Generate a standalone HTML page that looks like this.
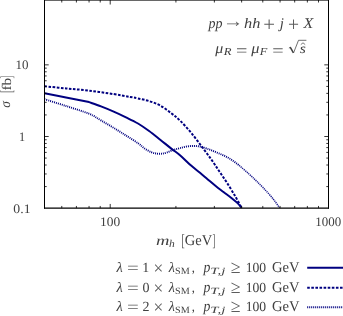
<!DOCTYPE html>
<html><head><meta charset="utf-8"><title>plot</title>
<style>html,body{margin:0;padding:0;background:#fff;}.t{font-family:"Liberation Serif",serif;text-rendering:geometricPrecision;}body{width:343px;height:316px;position:relative;overflow:hidden;font-family:"Liberation Serif",serif;}</style></head>
<body>
<svg width="343" height="316" viewBox="0 0 343 316" style="position:absolute;left:0;top:0;will-change:transform">
<clipPath id="cp"><rect x="44.5" y="0" width="284.0" height="208.45000000000002"/></clipPath>
<g clip-path="url(#cp)">
<path d="M44.5,99.2 C48.08,100.33 58.58,103.58 66.0,106.0 C73.42,108.42 83.17,111.30 89.0,113.7 C94.83,116.10 96.88,118.03 101.0,120.4 C105.12,122.77 109.53,125.38 113.7,127.9 C117.87,130.42 121.95,132.95 126.0,135.5 C130.05,138.05 134.88,141.02 138.0,143.2 C141.12,145.38 142.48,147.10 144.7,148.6 C146.92,150.10 149.25,151.37 151.3,152.2 C153.35,153.03 155.22,153.37 157.0,153.6 C158.78,153.83 160.37,153.78 162.0,153.6 C163.63,153.42 164.88,153.10 166.8,152.5 C168.72,151.90 171.30,150.73 173.5,150.0 C175.70,149.27 177.43,148.73 180.0,148.1 C182.57,147.47 185.95,146.52 188.9,146.2 C191.85,145.88 194.75,145.82 197.7,146.2 C200.65,146.58 203.27,147.38 206.6,148.5 C209.93,149.62 213.97,151.28 217.7,152.9 C221.43,154.52 225.42,156.12 229.0,158.2 C232.58,160.28 237.50,164.20 239.2,165.4" fill="none" stroke="#000080" stroke-width="1.9" stroke-dasharray="1 1"/>
<path d="M239.2,165.4 C240.83,166.83 246.20,171.47 249.0,174.0 C251.80,176.53 253.67,178.33 256.0,180.6 C258.33,182.87 260.33,184.78 263.0,187.6 C265.67,190.42 269.23,194.13 272.0,197.5 C274.77,200.87 278.33,206.08 279.6,207.8" fill="none" stroke="#000080" stroke-width="1.5" stroke-dasharray="1.2 0.8" stroke-opacity="0.9"/>
<path d="M44.5,93.3 C48.08,94.00 58.58,96.03 66.0,97.5 C73.42,98.97 85.17,101.33 89.0,102.1 C91.00,102.82 96.88,104.82 101.0,106.4 C105.12,107.98 109.53,109.78 113.7,111.6 C117.87,113.42 121.95,115.32 126.0,117.3 C130.05,119.28 134.15,121.22 138.0,123.5 C141.85,125.78 145.40,128.30 149.1,131.0 C152.80,133.70 156.50,136.77 160.2,139.7 C163.90,142.63 168.00,146.02 171.3,148.6 C174.60,151.18 176.70,152.37 180.0,155.2 C183.30,158.03 187.77,162.67 191.1,165.6 C194.43,168.53 197.22,170.50 200.0,172.8 C202.78,175.10 205.18,177.20 207.8,179.4 C210.42,181.60 213.08,183.90 215.7,186.0 C218.32,188.10 220.88,190.00 223.5,192.0 C226.12,194.00 229.10,196.18 231.4,198.0 C233.70,199.82 235.60,201.27 237.3,202.9 C239.00,204.53 240.88,206.98 241.6,207.8" fill="none" stroke="#000080" stroke-width="2" stroke-linejoin="round"/>
<path d="M44.5,86.3 C48.08,86.65 58.58,87.68 66.0,88.4 C73.42,89.12 81.05,89.65 89.0,90.6 C96.95,91.55 106.87,93.05 113.7,94.1 C120.53,95.15 125.95,96.18 130.0,96.9 C134.05,97.62 134.82,97.70 138.0,98.4 C141.18,99.10 145.40,99.92 149.1,101.1 C152.80,102.28 156.50,103.47 160.2,105.5 C163.90,107.53 168.00,110.78 171.3,113.3 C174.60,115.82 176.70,117.37 180.0,120.6 C183.30,123.83 187.40,128.27 191.1,132.7 C194.80,137.13 198.75,142.62 202.2,147.2 C205.65,151.78 208.90,156.10 211.8,160.2 C214.70,164.30 216.98,167.90 219.6,171.8 C222.22,175.70 224.88,179.50 227.5,183.6 C230.12,187.70 232.95,192.37 235.3,196.4 C237.65,200.43 240.55,205.90 241.6,207.8" fill="none" stroke="#000080" stroke-width="2" stroke-dasharray="2.6 1.5"/>
</g>
<g stroke="#000" stroke-width="1" fill="none">
<line x1="44.5" y1="0" x2="44.5" y2="208.65"/>
<line x1="328.5" y1="0" x2="328.5" y2="208.65"/>
<line x1="44.0" y1="208.20000000000002" x2="329.0" y2="208.20000000000002" stroke-width="1.2"/>
<line x1="44.0" y1="0.1" x2="329.0" y2="0.1"/>
</g><g stroke="#000" stroke-width="0.8" fill="none">
<line x1="44.5" y1="64.85" x2="48.7" y2="64.85"/>
<line x1="328.5" y1="64.85" x2="324.3" y2="64.85"/>
<line x1="44.5" y1="136.50" x2="48.7" y2="136.50"/>
<line x1="328.5" y1="136.50" x2="324.3" y2="136.50"/>
<line x1="44.5" y1="114.93" x2="46.7" y2="114.93"/>
<line x1="328.5" y1="114.93" x2="326.3" y2="114.93"/>
<line x1="44.5" y1="102.31" x2="46.7" y2="102.31"/>
<line x1="328.5" y1="102.31" x2="326.3" y2="102.31"/>
<line x1="44.5" y1="93.36" x2="46.7" y2="93.36"/>
<line x1="328.5" y1="93.36" x2="326.3" y2="93.36"/>
<line x1="44.5" y1="86.42" x2="46.7" y2="86.42"/>
<line x1="328.5" y1="86.42" x2="326.3" y2="86.42"/>
<line x1="44.5" y1="80.75" x2="46.7" y2="80.75"/>
<line x1="328.5" y1="80.75" x2="326.3" y2="80.75"/>
<line x1="44.5" y1="75.95" x2="46.7" y2="75.95"/>
<line x1="328.5" y1="75.95" x2="326.3" y2="75.95"/>
<line x1="44.5" y1="71.79" x2="46.7" y2="71.79"/>
<line x1="328.5" y1="71.79" x2="326.3" y2="71.79"/>
<line x1="44.5" y1="68.13" x2="46.7" y2="68.13"/>
<line x1="328.5" y1="68.13" x2="326.3" y2="68.13"/>
<line x1="44.5" y1="186.58" x2="46.7" y2="186.58"/>
<line x1="328.5" y1="186.58" x2="326.3" y2="186.58"/>
<line x1="44.5" y1="173.96" x2="46.7" y2="173.96"/>
<line x1="328.5" y1="173.96" x2="326.3" y2="173.96"/>
<line x1="44.5" y1="165.01" x2="46.7" y2="165.01"/>
<line x1="328.5" y1="165.01" x2="326.3" y2="165.01"/>
<line x1="44.5" y1="158.07" x2="46.7" y2="158.07"/>
<line x1="328.5" y1="158.07" x2="326.3" y2="158.07"/>
<line x1="44.5" y1="152.40" x2="46.7" y2="152.40"/>
<line x1="328.5" y1="152.40" x2="326.3" y2="152.40"/>
<line x1="44.5" y1="147.60" x2="46.7" y2="147.60"/>
<line x1="328.5" y1="147.60" x2="326.3" y2="147.60"/>
<line x1="44.5" y1="143.44" x2="46.7" y2="143.44"/>
<line x1="328.5" y1="143.44" x2="326.3" y2="143.44"/>
<line x1="44.5" y1="139.78" x2="46.7" y2="139.78"/>
<line x1="328.5" y1="139.78" x2="326.3" y2="139.78"/>
<line x1="61.78" y1="208.15" x2="61.78" y2="205.95000000000002"/>
<line x1="61.78" y1="0" x2="61.78" y2="2.5"/>
<line x1="76.40" y1="208.15" x2="76.40" y2="205.95000000000002"/>
<line x1="76.40" y1="0" x2="76.40" y2="2.5"/>
<line x1="89.06" y1="208.15" x2="89.06" y2="205.95000000000002"/>
<line x1="89.06" y1="0" x2="89.06" y2="2.5"/>
<line x1="100.22" y1="208.15" x2="100.22" y2="205.95000000000002"/>
<line x1="100.22" y1="0" x2="100.22" y2="2.5"/>
<line x1="110.21" y1="208.15" x2="110.21" y2="203.95000000000002"/>
<line x1="110.21" y1="0" x2="110.21" y2="4.5"/>
<line x1="175.92" y1="208.15" x2="175.92" y2="205.95000000000002"/>
<line x1="175.92" y1="0" x2="175.92" y2="2.5"/>
<line x1="214.36" y1="208.15" x2="214.36" y2="205.95000000000002"/>
<line x1="214.36" y1="0" x2="214.36" y2="2.5"/>
<line x1="241.63" y1="208.15" x2="241.63" y2="205.95000000000002"/>
<line x1="241.63" y1="0" x2="241.63" y2="2.5"/>
<line x1="262.79" y1="208.15" x2="262.79" y2="205.95000000000002"/>
<line x1="262.79" y1="0" x2="262.79" y2="2.5"/>
<line x1="280.07" y1="208.15" x2="280.07" y2="205.95000000000002"/>
<line x1="280.07" y1="0" x2="280.07" y2="2.5"/>
<line x1="294.69" y1="208.15" x2="294.69" y2="205.95000000000002"/>
<line x1="294.69" y1="0" x2="294.69" y2="2.5"/>
<line x1="307.35" y1="208.15" x2="307.35" y2="205.95000000000002"/>
<line x1="307.35" y1="0" x2="307.35" y2="2.5"/>
<line x1="318.51" y1="208.15" x2="318.51" y2="205.95000000000002"/>
<line x1="318.51" y1="0" x2="318.51" y2="2.5"/>
</g>
<line x1="307.2" y1="267.8" x2="343" y2="267.8" stroke="#000080" stroke-width="2"/>
<line x1="307.2" y1="287.7" x2="343" y2="287.7" stroke="#000080" stroke-width="2" stroke-dasharray="2.6 1.5"/>
<line x1="307.2" y1="307.3" x2="343" y2="307.3" stroke="#000080" stroke-width="1.9" stroke-dasharray="1 1"/>
<g class="t" fill="#404040">
<text transform="translate(15.53,69.30) scale(0.999,1)" font-size="13.0">10</text>
<text transform="translate(18.89,140.90) scale(0.945,1)" font-size="13.0">1</text>
<text transform="translate(13.35,213.00) scale(1.057,1)" font-size="13.0">0.1</text>
<text transform="translate(100.09,226.20) scale(1.033,1)" font-size="13.0">100</text>
<text transform="translate(315.24,226.20) scale(0.995,1)" font-size="13.0">1000</text>
<text transform="translate(155.95,245.00) scale(1.348,1)" font-size="13.8" font-style="italic">m</text>
<text transform="translate(169.00,247.10) scale(1.109,1)" font-size="10.4" font-style="italic">h</text>
<text transform="translate(181.22,246.00) scale(0.622,1)" font-size="16.8" fill="#5c5c5c">[</text>
<text transform="translate(184.72,245.00) scale(0.970,1)" font-size="15">GeV</text>
<text transform="translate(212.59,246.00) scale(0.529,1)" font-size="16.8" fill="#5c5c5c">]</text>
<text transform="translate(10.40,107.71) rotate(-90) scale(0.953,1)" font-size="14.2" font-style="italic">σ</text>
<text transform="translate(11.50,92.81) rotate(-90) scale(0.487,1)" font-size="16.8" fill="#5c5c5c">[</text>
<text transform="translate(10.60,90.55) rotate(-90) scale(1.149,1)" font-size="13.2">fb</text>
<text transform="translate(11.50,78.58) rotate(-90) scale(0.476,1)" font-size="16.8" fill="#5c5c5c">]</text>
<text transform="translate(208.44,27.80) scale(0.945,1)" font-size="14.8" font-style="italic">pp</text>
<text transform="translate(222.66,26.90) scale(1.106,1)" font-size="18.7" fill="#5c5c5c">→</text>
<text transform="translate(244.03,27.80) scale(1.134,1)" font-size="14.4" font-style="italic">hh</text>
<text transform="translate(263.26,30.60) scale(1.018,1)" font-size="20.5" fill="#5c5c5c">+</text>
<text transform="translate(279.68,27.80) scale(1.014,1)" font-size="14.8" font-style="italic">j</text>
<text transform="translate(288.02,30.60) scale(0.955,1)" font-size="20.5" fill="#5c5c5c">+</text>
<text transform="translate(303.56,27.80) scale(1.073,1)" font-size="14.8" font-style="italic">X</text>
<text transform="translate(215.20,52.80) scale(1.078,1)" font-size="14.8" font-style="italic">μ</text>
<text transform="translate(223.76,54.90) scale(1.173,1)" font-size="10.8" font-style="italic">R</text>
<text transform="translate(235.89,55.60) scale(1.203,1)" font-size="16.8" fill="#5c5c5c">=</text>
<text transform="translate(251.30,52.80) scale(1.107,1)" font-size="14.8" font-style="italic">μ</text>
<text transform="translate(259.66,54.90) scale(1.141,1)" font-size="10.8" font-style="italic">F</text>
<text transform="translate(272.19,55.60) scale(1.203,1)" font-size="16.8" fill="#5c5c5c">=</text>
<text transform="translate(299.77,52.80) scale(1.151,1)" font-size="13.600000000000001" font-style="italic">s</text>
<text transform="translate(116.56,272.00) scale(1.001,1)" font-size="14.4" font-style="italic">λ</text>
<text transform="translate(126.96,273.40) scale(1.304,1)" font-size="16" fill="#5c5c5c">=</text>
<text transform="translate(142.34,272.00) scale(1.000,1)" font-size="14.0">1</text>
<text transform="translate(153.62,274.40) scale(0.960,1)" font-size="18" fill="#5c5c5c">×</text>
<text transform="translate(168.65,272.00) scale(0.985,1)" font-size="14.4" font-style="italic">λ</text>
<text transform="translate(175.04,274.00) scale(1.057,1)" font-size="9.6">SM</text>
<text transform="translate(191.70,272.00) scale(0.828,1)" font-size="15.0">,</text>
<text transform="translate(203.53,272.00) scale(0.906,1)" font-size="15.2" font-style="italic">p</text>
<text transform="translate(210.34,274.00) scale(1.540,1)" font-size="9.6" font-style="italic">T,j</text>
<text transform="translate(230.69,273.20) scale(0.975,1)" font-size="18.3" fill="#5c5c5c">≥</text>
<text transform="translate(245.67,272.00) scale(0.975,1)" font-size="14.0">100</text>
<text transform="translate(272.02,272.00) scale(0.974,1)" font-size="15">GeV</text>
<text transform="translate(116.56,291.50) scale(1.001,1)" font-size="14.4" font-style="italic">λ</text>
<text transform="translate(126.96,292.90) scale(1.304,1)" font-size="16" fill="#5c5c5c">=</text>
<text transform="translate(142.55,291.50) scale(1.000,1)" font-size="14.0">0</text>
<text transform="translate(153.62,293.90) scale(0.960,1)" font-size="18" fill="#5c5c5c">×</text>
<text transform="translate(168.65,291.50) scale(0.985,1)" font-size="14.4" font-style="italic">λ</text>
<text transform="translate(175.04,293.50) scale(1.057,1)" font-size="9.6">SM</text>
<text transform="translate(191.70,291.50) scale(0.828,1)" font-size="15.0">,</text>
<text transform="translate(203.53,291.50) scale(0.906,1)" font-size="15.2" font-style="italic">p</text>
<text transform="translate(210.34,293.50) scale(1.540,1)" font-size="9.6" font-style="italic">T,j</text>
<text transform="translate(230.69,292.70) scale(0.975,1)" font-size="18.3" fill="#5c5c5c">≥</text>
<text transform="translate(245.67,291.50) scale(0.975,1)" font-size="14.0">100</text>
<text transform="translate(272.02,291.50) scale(0.974,1)" font-size="15">GeV</text>
<text transform="translate(116.56,311.00) scale(1.001,1)" font-size="14.4" font-style="italic">λ</text>
<text transform="translate(126.96,312.40) scale(1.304,1)" font-size="16" fill="#5c5c5c">=</text>
<text transform="translate(142.62,311.00) scale(1.000,1)" font-size="14.0">2</text>
<text transform="translate(153.62,313.40) scale(0.960,1)" font-size="18" fill="#5c5c5c">×</text>
<text transform="translate(168.65,311.00) scale(0.985,1)" font-size="14.4" font-style="italic">λ</text>
<text transform="translate(175.04,313.00) scale(1.057,1)" font-size="9.6">SM</text>
<text transform="translate(191.70,311.00) scale(0.828,1)" font-size="15.0">,</text>
<text transform="translate(203.53,311.00) scale(0.906,1)" font-size="15.2" font-style="italic">p</text>
<text transform="translate(210.34,313.00) scale(1.540,1)" font-size="9.6" font-style="italic">T,j</text>
<text transform="translate(230.69,312.20) scale(0.975,1)" font-size="18.3" fill="#5c5c5c">≥</text>
<text transform="translate(245.67,311.00) scale(0.975,1)" font-size="14.0">100</text>
<text transform="translate(272.02,311.00) scale(0.974,1)" font-size="15">GeV</text>
</g>
<path d="M288.9,48.1 L290.4,47.3 M293.5,53 L298.5,40.3 L306.4,40.3" fill="none" stroke="#404040" stroke-width="0.75" stroke-linejoin="miter"/>
<path d="M290.2,47.2 L293.4,52.8" fill="none" stroke="#404040" stroke-width="1.5"/>
<path d="M300.8,44.6 L303,42.8 L305.2,44.6" fill="none" stroke="#404040" stroke-width="0.7"/>
</svg>
</body></html>
